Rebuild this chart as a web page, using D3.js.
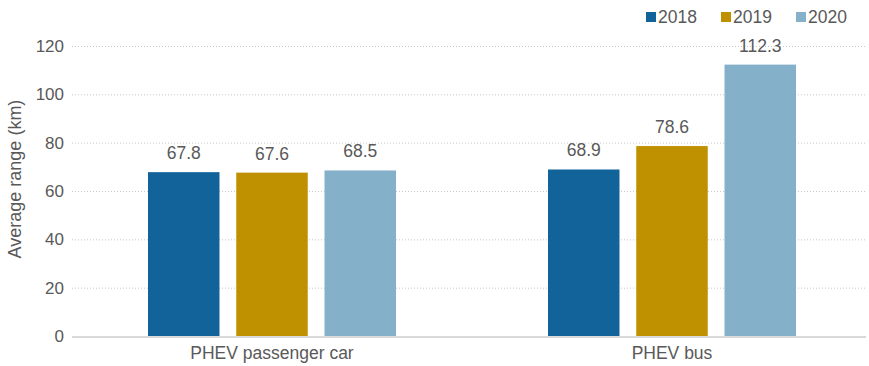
<!doctype html>
<html>
    <head>
        <script src="https://d3js.org/d3.v7.min.js"></script>
        <style>
            body { margin: 0; background: #fff; }
            text { font-family: Arial, "Liberation Sans", sans-serif; fill: #595959; }
        </style>
    </head>
    <body>
        <div id="chart"></div>
        <script>
            // data
            var categories = ["PHEV passenger car", "PHEV bus"];
            var years = ["2018", "2019", "2020"];
            var values2018 = [67.8, 68.9];
            var values2019 = [67.6, 78.6];
            var values2020 = [68.5, 112.3];
            var yTicks = [0, 20, 40, 60, 80, 100, 120];
            var colors = ["#126399", "#bf9000", "#84b0ca"];

            var width = 869, height = 366;
            var margin = {top: 46, right: -3, bottom: 30, left: 72};

            var svg = d3.select("#chart").append("svg")
                .attr("width", width)
                .attr("height", height);

            var rows = categories.map(function(c, i) {
                return {cat: c, vals: [values2018[i], values2019[i], values2020[i]]};
            });

            var x = d3.scaleBand()
                .domain(categories)
                .range([margin.left, width - margin.right]);

            var xSub = d3.scaleBand()
                .domain(years)
                .range([76, 324])
                .paddingInner(0.19);

            var y = d3.scaleLinear()
                .domain([0, 120])
                .range([336, margin.top]);

            // gridlines
            svg.append("g")
                .selectAll("line")
                .data(yTicks.slice(1))
                .enter().append("line")
                    .attr("x1", margin.left)
                    .attr("x2", 866)
                    .attr("y1", function(d) { return y(d) + 0.5; })
                    .attr("y2", function(d) { return y(d) + 0.5; })
                    .attr("stroke", "#c8c8c8")
                    .attr("stroke-width", 1)
                    .attr("stroke-dasharray", "1,2");

            // y axis labels
            var yAxis = svg.append("g")
                .attr("transform", "translate(" + (margin.left - 6) + ",0)")
                .call(d3.axisLeft(y).tickValues(yTicks).tickSize(0).tickPadding(2));
            yAxis.select(".domain").remove();
            yAxis.selectAll("text")
                .style("font-size", "17px")
                .style("fill", "#595959")
                .style("font-family", "Arial, 'Liberation Sans', sans-serif");

            // bars
            var groups = svg.append("g")
                .selectAll("g")
                .data(rows)
                .enter().append("g")
                    .attr("transform", function(d) { return "translate(" + x(d.cat) + ",0)"; });

            groups.selectAll("rect")
                .data(function(d) { return d.vals.map(function(v, i) { return {year: years[i], value: v, i: i}; }); })
                .enter().append("rect")
                    .attr("x", function(d) { return xSub(d.year); })
                    .attr("y", function(d) { return y(d.value); })
                    .attr("width", xSub.bandwidth())
                    .attr("height", function(d) { return y(0) - y(d.value); })
                    .attr("fill", function(d) { return colors[d.i]; });

            groups.selectAll("text.val")
                .data(function(d) { return d.vals.map(function(v, i) { return {year: years[i], value: v}; }); })
                .enter().append("text")
                    .attr("class", "val")
                    .attr("x", function(d) { return xSub(d.year) + xSub.bandwidth() / 2; })
                    .attr("y", function(d) { return y(d.value) - 13; })
                    .attr("text-anchor", "middle")
                    .style("font-size", "17.5px")
                    .text(function(d) { return d.value.toFixed(1); });

            // x axis line
            svg.append("line")
                .attr("x1", margin.left)
                .attr("x2", 866)
                .attr("y1", y(0) + 1)
                .attr("y2", y(0) + 1)
                .attr("stroke", "#d9d9d9")
                .attr("stroke-width", 2);

            // category labels
            svg.append("g")
                .selectAll("text")
                .data(categories)
                .enter().append("text")
                    .attr("x", function(d) { return x(d) + x.bandwidth() / 2; })
                    .attr("y", 359)
                    .attr("text-anchor", "middle")
                    .style("font-size", "17.5px")
                    .text(function(d) { return d; });

            // y axis title
            svg.append("text")
                .attr("transform", "translate(21,179) rotate(-90)")
                .attr("text-anchor", "middle")
                .style("font-size", "18px")
                .text("Average range (km)");

            // legend
            var legendX = [646, 721, 796];
            var legend = svg.append("g")
                .selectAll("g")
                .data(years)
                .enter().append("g")
                    .attr("transform", function(d, i) { return "translate(" + legendX[i] + ",12)"; });
            legend.append("rect")
                .attr("width", 10)
                .attr("height", 10)
                .attr("fill", function(d, i) { return colors[i]; });
            legend.append("text")
                .attr("x", 12)
                .attr("y", 10.5)
                .style("font-size", "17.5px")
                .text(function(d) { return d; });
        </script>
    </body>
</html>
